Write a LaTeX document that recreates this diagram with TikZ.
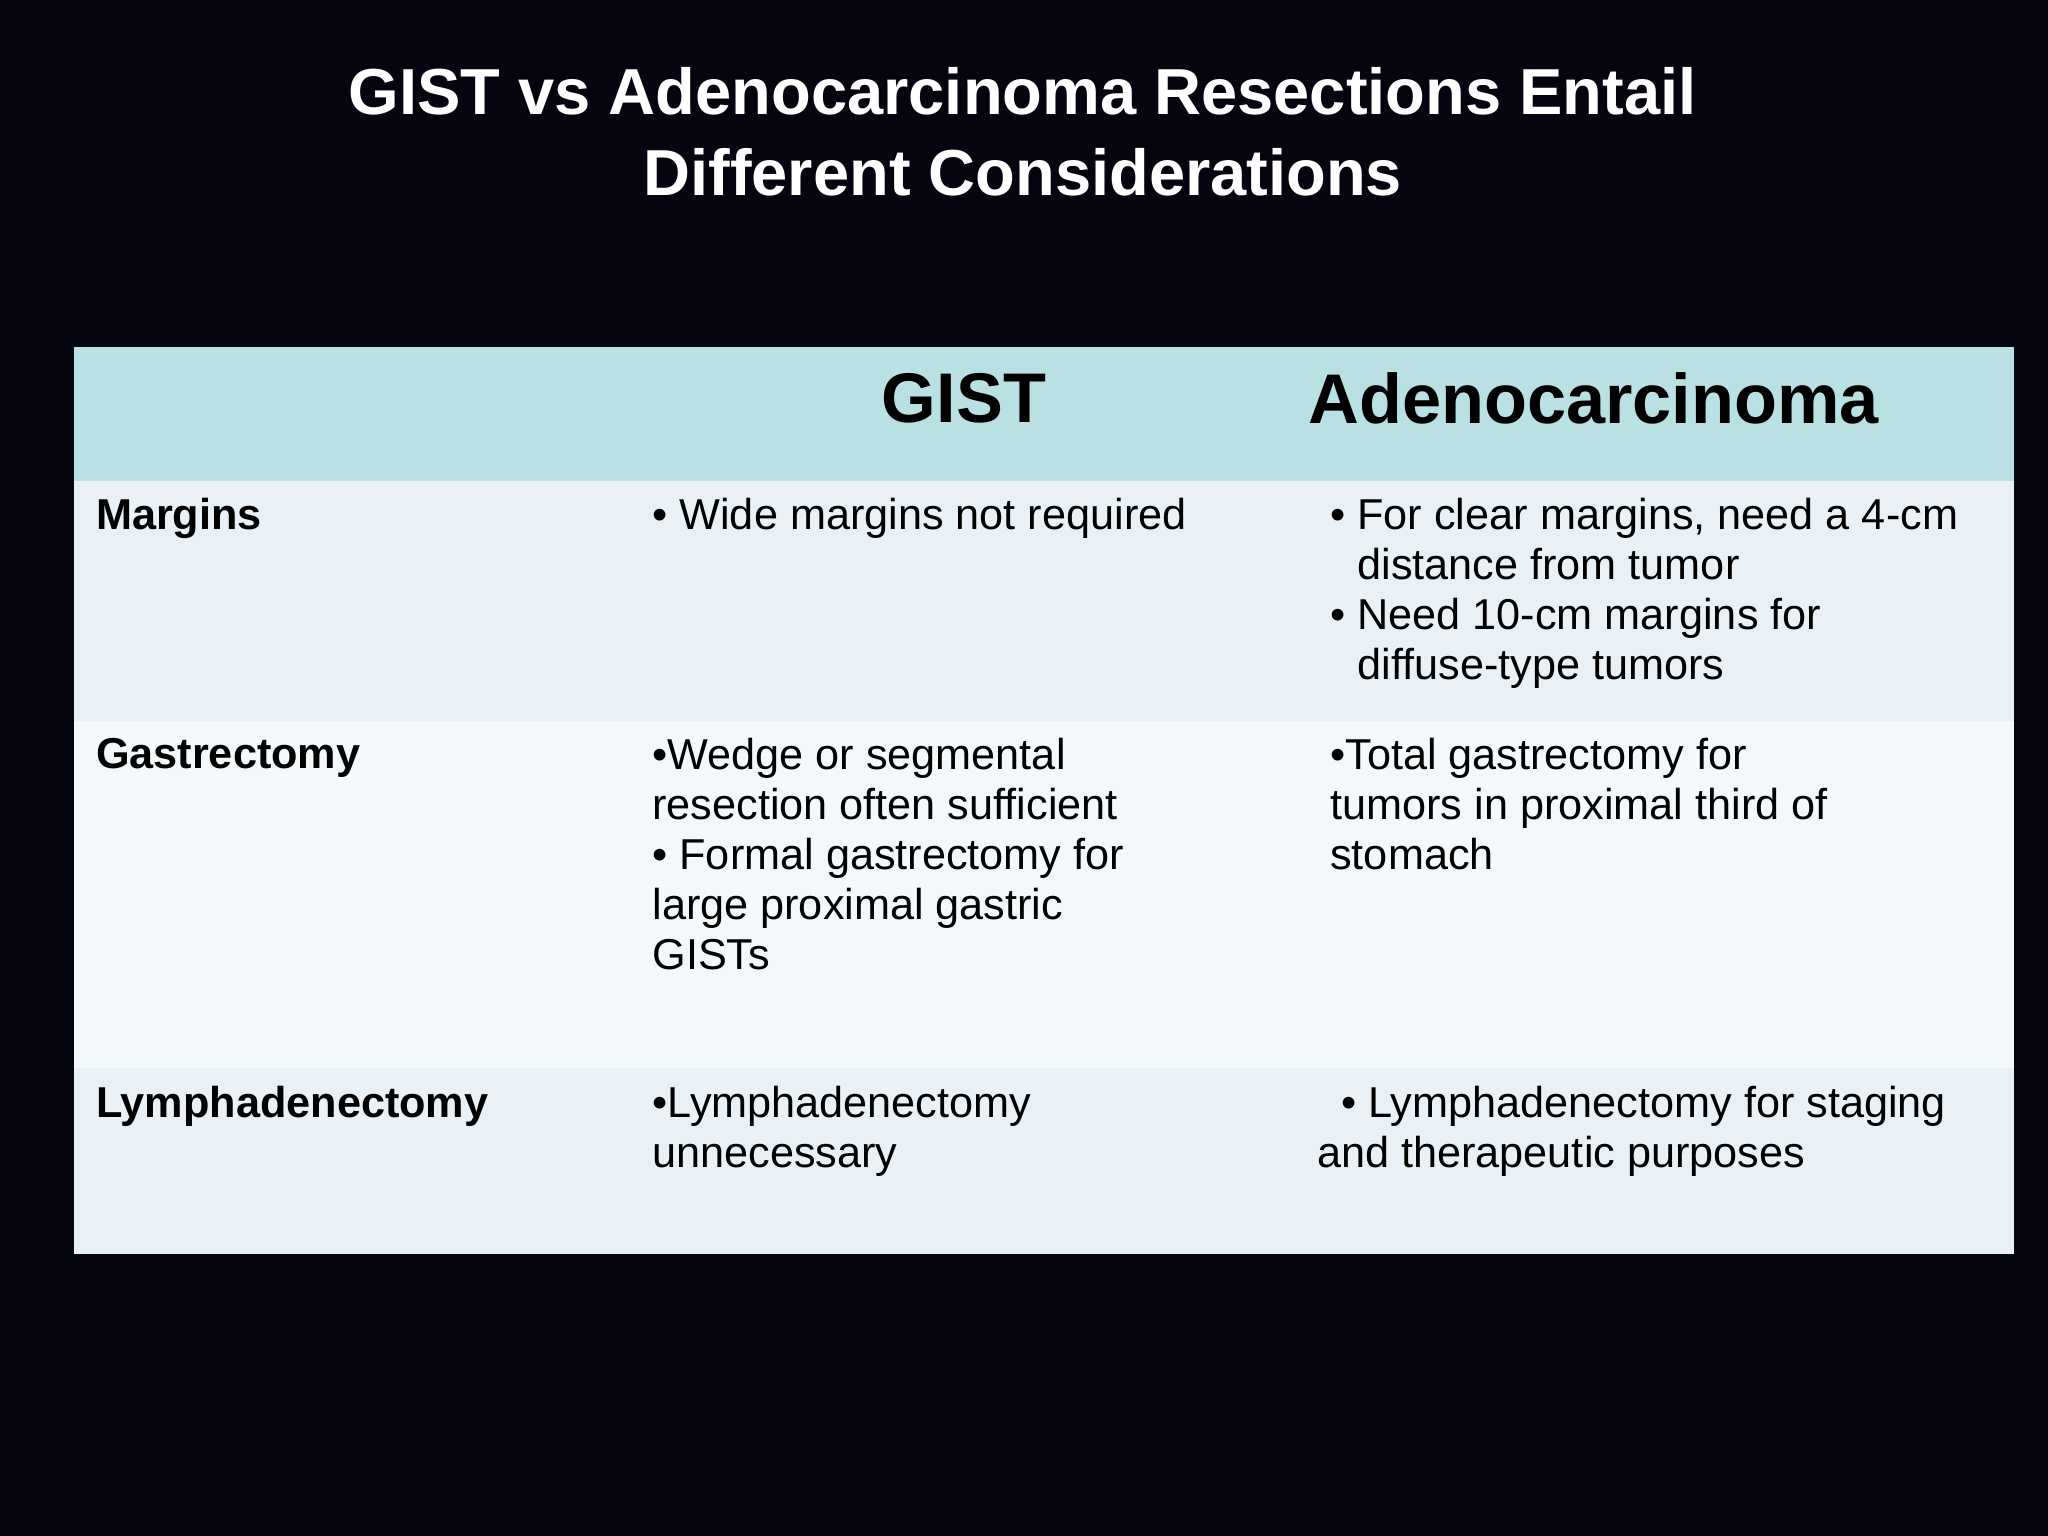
\documentclass[tikz,border=0pt]{standalone}
\usepackage{fontspec}
\setmainfont{Liberation Sans}
\definecolor{bg}{HTML}{05050F}
\definecolor{hdr}{HTML}{B9E0E2}
\definecolor{rowa}{HTML}{E9F1F6}
\definecolor{rowb}{HTML}{F3F8FB}
\begin{document}
\begin{tikzpicture}[x=0.01306cm,y=-0.01306cm,
  cell/.style={anchor=north west,inner sep=0pt,align=left,font=\fontsize{12.3}{14.2}\selectfont,text=black},
  lab/.style={cell,font=\fontsize{12.3}{14.2}\selectfont\bfseries},
  head/.style={inner sep=0pt,font=\fontsize{20}{24}\selectfont\bfseries,text=black},
  ttl/.style={inner sep=0pt,align=center,font=\fontsize{18.5}{23}\selectfont\bfseries,text=white}]
\fill[bg] (0,0) rectangle (1568,1176);
\useasboundingbox (0,0) rectangle (1568,1176);
\fill[hdr] (57,266) rectangle (1542,368);
\fill[rowa] (57,368) rectangle (1542,552);
\fill[rowb] (57,552) rectangle (1542,818);
\fill[rowa] (57,818) rectangle (1542,960);
\node[ttl] (title) at (783,101) {GIST vs Adenocarcinoma Resections Entail\\Different Considerations};
\node[head] (h1) at (738,305) {GIST};
\node[head] (h2) at (1220,305) {Adenocarcinoma};
\node[lab] (l1) at (73,381) {Margins};
\node[lab] (l2) at (73,565) {Gastrectomy};
\node[lab] (l3) at (73,831) {Lymphadenectomy};
\node[cell] (g1) at (499,381) {• Wide margins not required};
\node[cell] (g2) at (499,565) {•Wedge or segmental\\resection often sufficient\\• Formal gastrectomy for\\large proximal gastric\\GISTs};
\node[cell] (g3) at (499,831) {•Lymphadenectomy\\unnecessary};
\node[cell] (a1) at (1018,381) {• For clear margins, need a 4-cm\\\hphantom{• }distance from tumor\\• Need 10-cm margins for\\\hphantom{• }diffuse-type tumors};
\node[cell] (a2) at (1018,565) {•Total gastrectomy for\\tumors in proximal third of\\stomach};
\node[cell] (a3) at (1008,831) {\hphantom{ }\ • Lymphadenectomy for staging\\and therapeutic purposes};
\end{tikzpicture}
\end{document}
